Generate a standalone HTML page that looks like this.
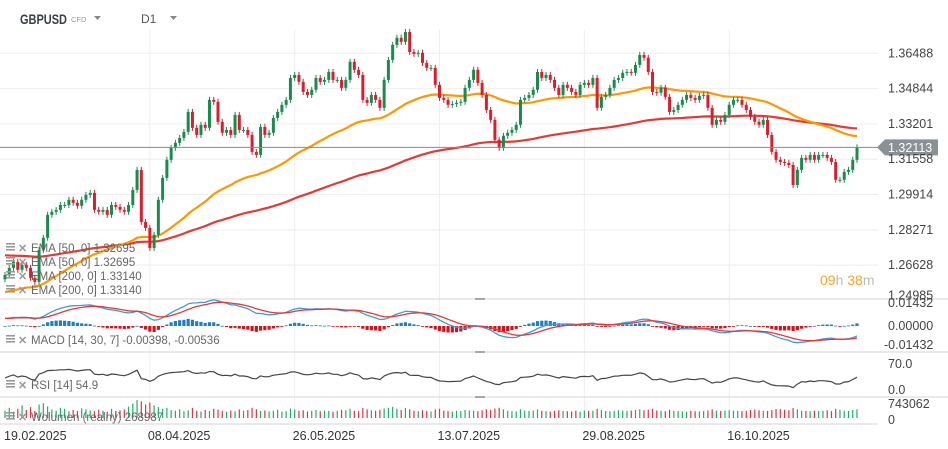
<!DOCTYPE html>
<html><head><meta charset="utf-8">
<style>
body{margin:0;background:#fff;font-family:"Liberation Sans",sans-serif;}
#wrap{position:relative;width:948px;height:449px;overflow:hidden;background:#fff}
svg text{font-family:"Liberation Sans",sans-serif}
</style></head>
<body>
<div id="wrap">
<svg id="chart" width="948" height="449" viewBox="0 0 948 449">
  <g id="grid"></g>
  <g id="main"></g>
  <g id="macd"></g>
  <g id="rsi"></g>
  <g id="vol"></g>
  <g id="axes"></g>
  <g>
    <text x="20" y="24" font-size="14" font-weight="bold" fill="#3a3f45" textLength="47" lengthAdjust="spacingAndGlyphs">GBPUSD</text>
    <text x="71" y="22" font-size="7.5" fill="#999">CFD</text>
    <polygon points="94,16 101,16 97.5,20" fill="#888"/>
    <text x="141" y="23" font-size="12" fill="#555">D1</text>
    <polygon points="170,16 177,16 173.5,20" fill="#888"/>
  </g>
  <g font-size="11.5" fill="#666">
    <text x="31" y="252">EMA [50, 0] 1.32695</text>
    <text x="31" y="266">EMA [50, 0] 1.32695</text>
    <text x="31" y="280">EMA [200, 0] 1.33140</text>
    <text x="31" y="294">EMA [200, 0] 1.33140</text>
    <text x="31" y="344">MACD [14, 30, 7] -0.00398, -0.00536</text>
    <text x="31" y="389">RSI [14] 54.9</text>
    <text x="31" y="421">Wolumen (realny) 268987</text>
  </g>
  <g id="icons"></g>
  <g font-size="14">
    <text x="820" y="285"><tspan fill="#f5a623">09</tspan><tspan fill="#bbb">h </tspan><tspan fill="#f5a623">38</tspan><tspan fill="#bbb">m</tspan></text>
  </g>
</svg>
</div>
<script>
const dates = ["19.02.2025","08.04.2025","26.05.2025","13.07.2025","29.08.2025","16.10.2025"];
const dateIdx = [0,34,68,102,136,170];
const priceTicks = [1.36488,1.34844,1.33201,1.31558,1.29914,1.28271,1.26628,1.24985];
const closes = [1.2617,1.2650,1.2678,1.2641,1.2664,1.2650,1.2604,1.2585,1.2734,1.2790,
1.2897,1.2911,1.2920,1.2943,1.2943,1.2967,1.2953,1.2939,1.2967,1.2990,
1.2999,1.2920,1.2911,1.2920,1.2897,1.2943,1.2934,1.2920,1.2911,1.2943,
1.3013,1.3106,1.2864,1.2836,1.2743,1.2804,1.2967,1.3069,1.3153,1.3209,
1.3232,1.3255,1.3283,1.3376,1.3302,1.3269,1.3316,1.3302,1.3432,1.3423,
1.3330,1.3279,1.3292,1.3269,1.3362,1.3292,1.3292,1.3269,1.3190,1.3176,
1.3306,1.3269,1.3279,1.3348,1.3376,1.3409,1.3432,1.3534,1.3548,1.3516,
1.3469,1.3455,1.3479,1.3534,1.3516,1.3525,1.3562,1.3525,1.3525,1.3488,
1.3525,1.3609,1.3572,1.3548,1.3432,1.3418,1.3455,1.3432,1.3395,1.3525,
1.3618,1.3688,1.3721,1.3702,1.3748,1.3655,1.3646,1.3651,1.3604,1.3581,
1.3581,1.3502,1.3441,1.3432,1.3409,1.3413,1.3418,1.3423,1.3488,1.3525,
1.3572,1.3511,1.3455,1.3385,1.3339,1.3246,1.3209,1.3265,1.3279,1.3292,
1.3316,1.3432,1.3441,1.3455,1.3479,1.3562,1.3534,1.3548,1.3525,1.3488,
1.3455,1.3502,1.3488,1.3469,1.3455,1.3502,1.3511,1.3502,1.3534,1.3395,
1.3446,1.3455,1.3488,1.3525,1.3534,1.3558,1.3562,1.3558,1.3595,1.3641,
1.3628,1.3562,1.3469,1.3465,1.3488,1.3446,1.3376,1.3385,1.3409,1.3432,
1.3455,1.3441,1.3432,1.3451,1.3455,1.3395,1.3316,1.3339,1.3330,1.3362,
1.3409,1.3432,1.3432,1.3409,1.3385,1.3353,1.3330,1.3316,1.3339,1.3269,
1.3190,1.3153,1.3143,1.3139,1.3129,1.3036,1.3106,1.3162,1.3153,1.3176,
1.3153,1.3176,1.3176,1.3162,1.3143,1.3060,1.3060,1.3097,1.3106,1.3153,1.3211];
const volumes = [300,420,260,380,520,330,450,290,560,610,480,350,300,420,380,270,330,290,400,360,
310,280,340,300,260,380,290,320,350,470,600,743,690,560,640,520,450,380,420,330,
300,360,280,320,410,300,270,330,290,380,340,300,260,310,280,350,300,330,420,360,
290,310,270,300,340,260,280,390,350,300,320,270,300,330,280,310,290,260,300,340,
320,380,300,280,410,360,320,300,340,390,420,460,380,330,410,360,300,280,320,290,
270,350,380,300,280,260,300,290,330,310,300,280,320,360,340,390,420,360,300,280,
270,360,300,290,310,350,300,280,260,300,320,290,280,270,300,260,310,290,300,380,
330,290,280,300,320,300,290,310,330,360,320,340,380,310,300,280,340,300,290,270,
260,300,280,270,290,310,360,300,290,300,320,300,290,280,300,330,350,320,300,290,
330,370,360,340,320,410,360,300,290,280,300,290,300,320,280,380,340,300,290,330,360];
const ema50Seed = [1.2534];
const ema200Seed = [1.2710];

const NS="http://www.w3.org/2000/svg";
function mk(tag,attrs,parent){const e=document.createElementNS(NS,tag);for(const k in attrs)e.setAttribute(k,attrs[k]);parent.appendChild(e);return e;}
const X0=5, X1=857;
const xs = i => X0 + i*(X1-X0)/(closes.length-1);
const yP = p => 53.3 + (1.36488-p)*2148.5;
const grid=document.getElementById('grid'), main=document.getElementById('main'), axes=document.getElementById('axes');

priceTicks.forEach((p,k)=>{
  const y=yP(p);
  if(k<priceTicks.length-1){const l=mk('line',{x1:0,x2:878,y1:y,y2:y,stroke:'#eee','stroke-width':1},grid);
  
  }
  const t=mk('text',{x:888,y:(k==priceTicks.length-1?y-1:y+4),'font-size':12.5,fill:'#444'},axes);t.textContent=p.toFixed(5);
  
  
});
dateIdx.forEach((di,k)=>{
  const x=xs(di);
  if(k>0){const l=mk('line',{x1:x,x2:x,y1:30,y2:424,stroke:'#eee','stroke-width':1},grid);
  
  }
  const t=mk('text',{x:k==0?4:x-2,y:440,'font-size':12.5,fill:'#333'},axes);t.textContent=dates[k];
  
  
});
[[0,299,878,299],[0,352,878,352],[0,397,878,397],[0,424,878,424],[878,299,948,299],[878,352,948,352],[878,397,948,397]].forEach(a=>{
  const l=mk('line',{x1:a[0],y1:a[1],x2:a[2],y2:a[3],stroke:'#ddd','stroke-width':1.2},grid);
  
  
});
[[475,299],[475,352],[475,397]].forEach(a=>{const l=mk('line',{x1:a[0],y1:a[1],x2:a[0]+10,y2:a[1],stroke:'#aaa','stroke-width':2},grid);
  
  });

function ema(arr,n,seed){const a=2/(n+1);let v=seed;return arr.map(c=>(v=v+a*(c-v)));}
const e50=ema(closes,52,ema50Seed[0]), e200=ema(closes,140,ema200Seed[0]);
function line(vals,fy,color,w,parent,name){
  const d=vals.map((v,i)=>(i?'L':'M')+xs(i).toFixed(1)+','+fy(v).toFixed(1)).join('');
  const p=mk('path',{d:d,fill:'none',stroke:color,'stroke-width':w,'stroke-linejoin':'round'},parent);
  
  
}
line(e200,yP,'#e53935',2.2,main,'ema200-line');
line(e50,yP,'#ff9800',2.2,main,'ema50-line');

const wick=0.0014;
closes.forEach((c,i)=>{
  const o=i?closes[i-1]:c-0.002;
  const up=c>=o, col=up?'#1b8a4e':'#d81f2e', x=xs(i);
  const hi=Math.max(o,c)+wick, lo=Math.min(o,c)-wick;
  const w=mk('line',{x1:x,x2:x,y1:yP(hi),y2:yP(lo),stroke:col,'stroke-width':1},main);
  
  
  const yt=yP(Math.max(o,c)), yb=yP(Math.min(o,c));
  const r=mk('rect',{x:x-1.5,y:yt,width:3,height:Math.max(1,yb-yt),fill:col},main);
  
  
});

const last=closes[closes.length-1], ly=yP(last);
const pl=mk('line',{x1:0,x2:878,y1:ly,y2:ly,stroke:'#888','stroke-width':1},main);


const tag=mk('polygon',{points:`877,${ly} 885,${ly-8} 938,${ly-8} 938,${ly+8} 885,${ly+8}`,fill:'#8a9196'},main);


const tt=mk('text',{x:888,y:ly+4.5,'font-size':12.5,fill:'#fff'},main);tt.textContent='1.32113';



const macdG=document.getElementById('macd');
const f=ema(closes,14,closes[0]-0.004), s=ema(closes,30,closes[0]-0.008);
const macd=f.map((v,i)=>v-s[i]); const sig=ema(macd,7,macd[0]);
const yM=v=>326-v*(27/0.01432);
macd.forEach((v,i)=>{const h=v-sig[i];const y0=yM(0),y1=yM(h*1.3);
  const r=mk('rect',{x:xs(i)-1.6,y:Math.min(y0,y1),width:3.2,height:Math.max(0.8,Math.abs(y1-y0)),fill:h>=0?'#1e7fc4':'#d0141e'},macdG);
  
  });
line(macd,yM,'#3c9ce0',1.3,macdG,'macd-line');
line(sig,yM,'#e53935',1.3,macdG,'macd-signal-line');
[[307,'0.01432',888],[330,'0.00000',888],[349,'-0.01432',884]].forEach(a=>{const t=mk('text',{x:a[2],y:a[0],'font-size':12.5,fill:'#444'},axes);t.textContent=a[1];
  
  });

const rsiG=document.getElementById('rsi');
let ag=0,al=0;const rsi=[];
closes.forEach((c,i)=>{if(i==0){ag=0.001;al=0.001;rsi.push(50);return;}const d=c-closes[i-1];
  ag=(ag*13+Math.max(d,0))/14;al=(al*13+Math.max(-d,0))/14;rsi.push(100-100/(1+ag/al));});
const yR=v=>378-(v-50)*0.32;
line(rsi,yR,'#444',1.2,rsiG,'rsi-line');
[[368,'70.0'],[394,'0.0']].forEach(a=>{const t=mk('text',{x:888,y:a[0],'font-size':12.5,fill:'#444'},axes);t.textContent=a[1];
  
  });

const volG=document.getElementById('vol');
const vmax=Math.max(...volumes);
const yV=v=>418-v/vmax*18;
volumes.forEach((v,i)=>{const o=i?closes[i-1]:closes[0]-0.002;const col=closes[i]>=o?'#1fae6a':'#e0323f';
  const l=mk('line',{x1:xs(i),x2:xs(i),y1:yV(v),y2:418,stroke:col,'stroke-width':1.2},volG);
  
  });
[[408,'743062'],[424,'0']].forEach(a=>{const t=mk('text',{x:888,y:a[0],'font-size':12.5,fill:'#444'},axes);t.textContent=a[1];
  
  });

const icons=document.getElementById('icons');
[248,262,276,290,340,385,417].forEach(y=>{
  const g=mk('g',{},icons);
  
  
  [0,3,6].forEach(d=>mk('rect',{x:6,y:y-5+d,width:9,height:1.6,fill:'#999'},g));
  const x=mk('text',{x:18,y:y+4,'font-size':11,fill:'#999','font-weight':'bold'},icons);x.textContent='✕';
  
  
});
</script>
</body></html>
